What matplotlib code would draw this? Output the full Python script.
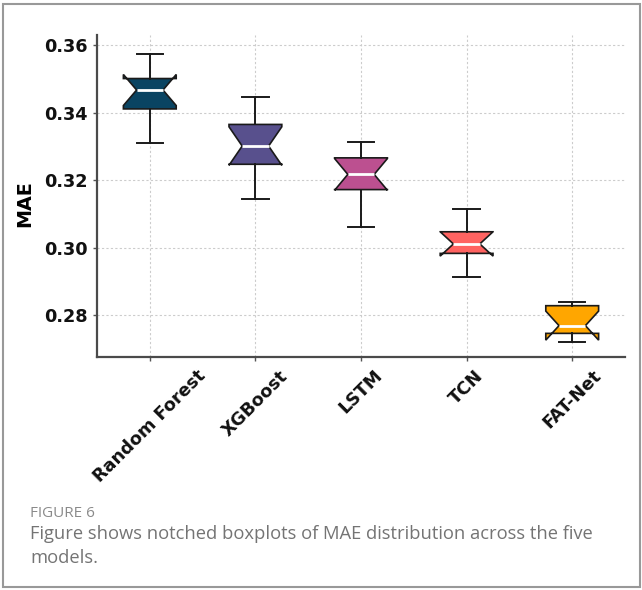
import matplotlib
matplotlib.use("Agg")
import matplotlib.pyplot as plt
from matplotlib.patches import Rectangle

# Model names and their MAE distribution summaries
models = ["Random Forest", "XGBoost", "LSTM", "TCN", "FAT-Net"]
whisker_low = [0.3310, 0.3143, 0.3062, 0.2913, 0.2719]
q1 = [0.3411, 0.3247, 0.3172, 0.2983, 0.2746]
median = [0.3467, 0.3301, 0.3217, 0.3011, 0.2769]
q3 = [0.3501, 0.3365, 0.3266, 0.3047, 0.2828]
whisker_high = [0.3575, 0.3447, 0.3312, 0.3114, 0.2838]
notch_half = [0.0046, 0.0057, 0.0047, 0.0036, 0.0043]
colors = ["#0a4462", "#58508d", "#bc5090", "#ff6361", "#ffa600"]
yticks = [0.28, 0.30, 0.32, 0.34, 0.36]

W, H = 642, 590
fig = plt.figure(figsize=(W / 100, H / 100), dpi=100)
fig.patch.set_facecolor("white")

ax = fig.add_axes([97 / W, 1 - 357 / H, (625 - 97) / W, (357 - 35) / H])

stats = []
for i, name in enumerate(models):
    stats.append(dict(
        label=name,
        whislo=whisker_low[i], q1=q1[i], med=median[i], q3=q3[i],
        whishi=whisker_high[i],
        cilo=median[i] - notch_half[i], cihi=median[i] + notch_half[i],
        fliers=[],
    ))

bp = ax.bxp(stats, positions=range(1, len(models) + 1), widths=0.5,
            shownotches=True, patch_artist=True, showfliers=False,
            boxprops=dict(linewidth=1.2, edgecolor="#1a1a1a"),
            whiskerprops=dict(linewidth=1.4, color="#1a1a1a"),
            capprops=dict(linewidth=1.4, color="#1a1a1a"),
            medianprops=dict(linewidth=2.0, color="white"))
for patch, c in zip(bp["boxes"], colors):
    patch.set_facecolor(c)

ax.set_xlim(0.5, 5.5)
ax.set_ylim(0.2676, 0.3630)
ax.set_yticks(yticks)
ax.set_yticklabels([f"{v:.2f}" for v in yticks])
ax.set_xticks(range(1, len(models) + 1))
ax.set_xticklabels(models, rotation=45, ha="center")

for lab in ax.get_xticklabels() + ax.get_yticklabels():
    lab.set_fontweight("bold")
    lab.set_fontsize(12.7)
    lab.set_color("#111111")

ax.set_ylabel("MAE", fontsize=13.8, fontweight="bold")
ax.yaxis.set_label_coords(-0.118, 0.475)
ax.tick_params(axis="both", length=3, width=1, color="#555555", pad=4)

ax.grid(True, color="#cccccc", linestyle=(0, (2, 2)), linewidth=0.8)
ax.set_axisbelow(True)
for side in ("top", "right"):
    ax.spines[side].set_visible(False)
for side in ("left", "bottom"):
    ax.spines[side].set_color("#4a4a4a")
    ax.spines[side].set_linewidth(1.6)

# Caption below the chart
cap_font = ["Open Sans", "DejaVu Sans"]
fig.text(30 / W, 1 - 517 / H, "FIGURE 6", fontsize=11, color="#8a8a8a",
         family=cap_font, va="baseline")
fig.text(30 / W, 1 - 539 / H,
         "Figure shows notched boxplots of MAE distribution across the five",
         fontsize=13.2, color="#747474", family=cap_font, va="baseline")
fig.text(30 / W, 1 - 563 / H, "models.", fontsize=13.2, color="#747474",
         family=cap_font, va="baseline")

# Outer frame
fig.patches.append(Rectangle((3 / W, 1 - 587 / H), (640 - 3) / W, (587 - 4) / H,
                             transform=fig.transFigure, fill=False,
                             edgecolor="#999999", linewidth=1.5))

fig.savefig("out.png", dpi=100)
